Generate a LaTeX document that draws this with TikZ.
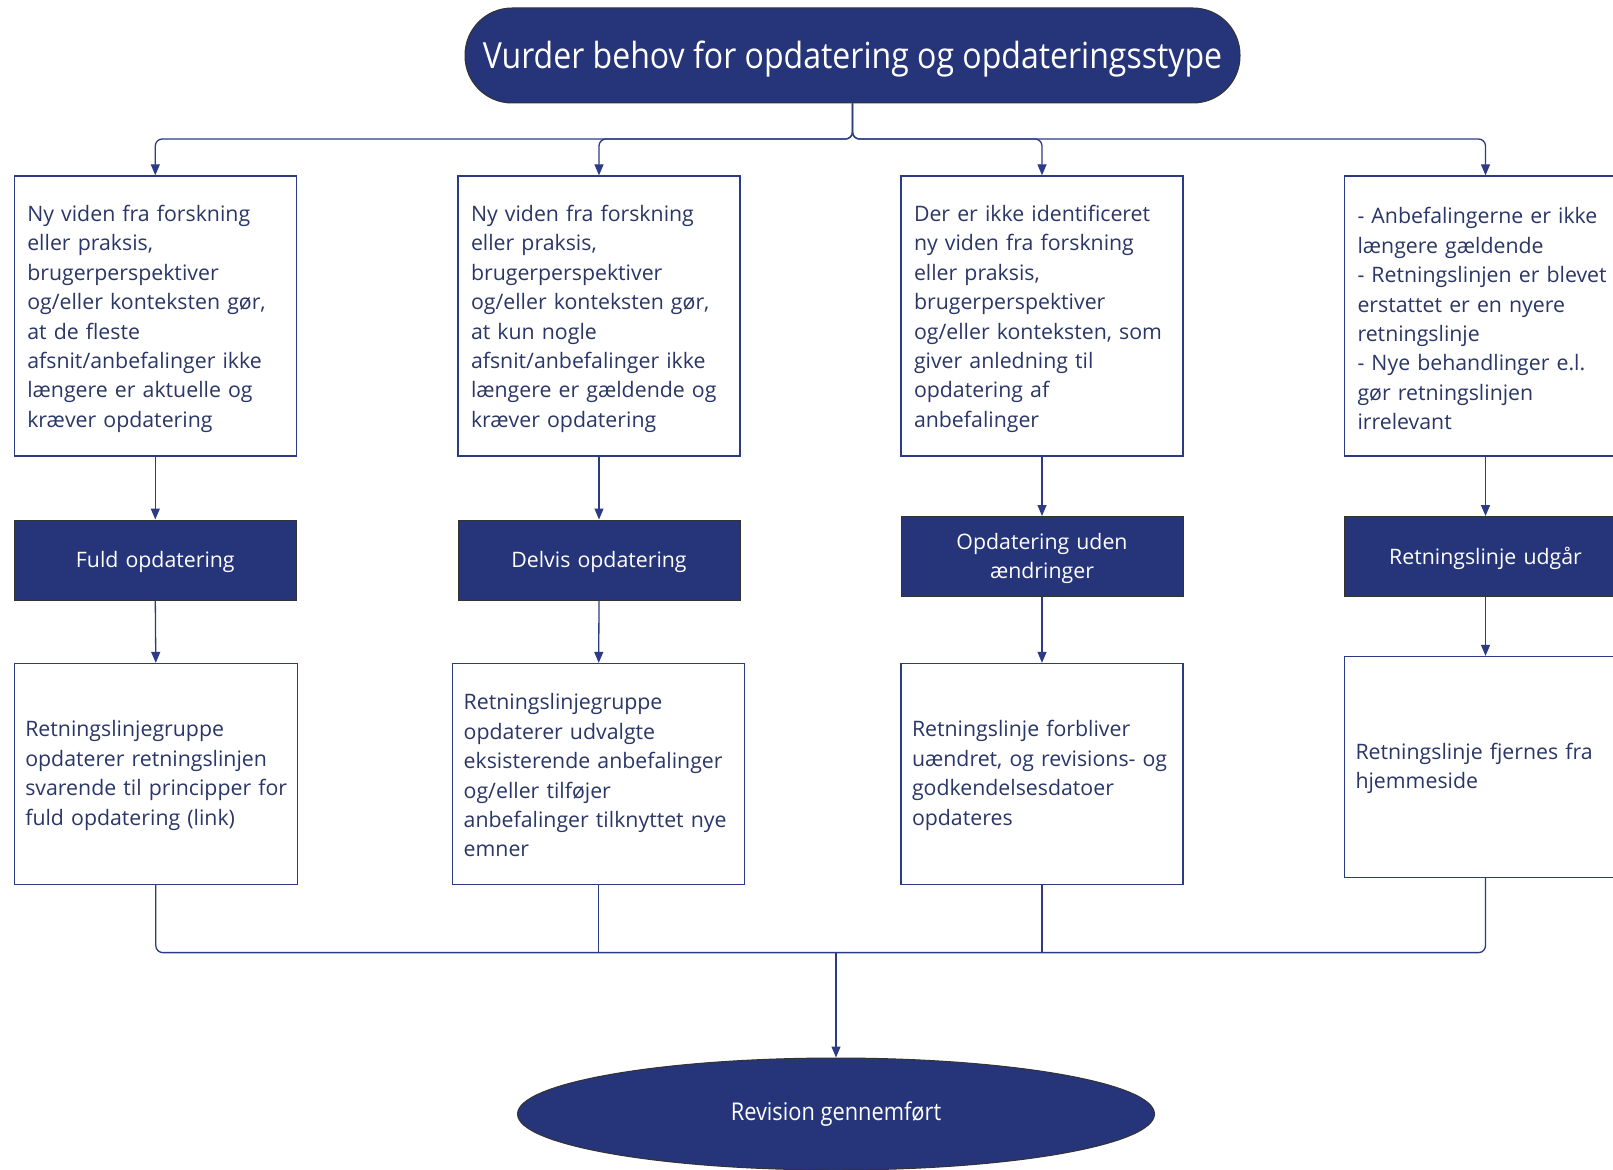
\documentclass[tikz,border=0pt]{standalone}
\usepackage{fontspec}
\setmainfont{Open Sans}
\newfontfamily\condfont[FakeStretch=0.89]{Open Sans}
\usetikzlibrary{arrows.meta,shapes.geometric}
\definecolor{navy}{RGB}{38,53,122}
\definecolor{txt}{RGB}{42,54,104}
\definecolor{edge}{RGB}{44,60,132}
\begin{document}
\begin{tikzpicture}[x=1pt,y=-1pt,
  wbox/.style={draw=edge, line width=1.3pt, fill=white, minimum width=282pt, text width=256pt, align=left, text=txt, font=\fontsize{21.3}{29.4}\selectfont, inner sep=0pt},
  dbox/.style={draw=black!80, line width=1pt, fill=navy, minimum width=282pt, minimum height=80pt, text width=256pt, align=center, text=white, font=\fontsize{21.3}{29.4}\selectfont, inner sep=0pt, text height=20.2pt},
  conn/.style={draw=edge, line width=1.3pt},
  arr/.style={conn, -{Triangle[length=11pt,width=9pt]}}
]
\path[use as bounding box] (0,0) rectangle (1613,1169);
\clip (0,0) rectangle (1613,1169);
\fill[white] (0,0) rectangle (1613,1169);

% top
\node[draw=black!80, line width=1pt, fill=navy, rounded corners=47pt, minimum width=775pt, minimum height=95pt, text=white, font=\condfont\fontsize{36}{42}\selectfont, inner sep=0pt, text height=35pt, text depth=8.6pt] (top) at (852.5,55.5) {Vurder behov for opdatering og opdateringsstype};

% row 1
\node[wbox, minimum height=280pt, text height=22pt] (r11) at (155.3,316) {Ny viden fra forskning\\eller praksis,\\brugerperspektiver\\og/eller konteksten gør,\\at de fleste\\afsnit/anbefalinger ikke\\længere er aktuelle og\\kræver opdatering};
\node[wbox, minimum height=280pt, text height=22pt] (r12) at (599,316) {Ny viden fra forskning\\eller praksis,\\brugerperspektiver\\og/eller konteksten gør,\\at kun nogle\\afsnit/anbefalinger ikke\\længere er gældende og\\kræver opdatering};
\node[wbox, minimum height=280pt, text height=22pt] (r13) at (1042,316) {Der er ikke identificeret\\ny viden fra forskning\\eller praksis,\\brugerperspektiver\\og/eller konteksten, som\\giver anledning til\\opdatering af\\anbefalinger};
\node[wbox, minimum height=280pt, text height=22pt] (r14) at (1485.5,316) {- Anbefalingerne er ikke\\længere gældende\\- Retningslinjen er blevet\\erstattet er en nyere\\retningslinje\\- Nye behandlinger e.l.\\gør retningslinjen\\irrelevant};

% row 2
\node[dbox] (r21) at (155.3,560) {Fuld opdatering};
\node[dbox] (r22) at (599,560) {Delvis opdatering};
\node[dbox] (r23) at (1042,556.5) {Opdatering uden\\ændringer};
\node[dbox] (r24) at (1485.5,556.5) {Retningslinje udgår};

% row 3
\node[wbox, minimum height=221pt, minimum width=283pt, text width=261pt, text height=19pt] (r31) at (155.8,774) {Retningslinjegruppe\\opdaterer retningslinjen\\\mbox{svarende til principper for}\\fuld opdatering (link)};
\node[wbox, minimum height=221pt, minimum width=292pt, text width=270pt, text height=19pt] (r32) at (598.7,774) {Retningslinjegruppe\\opdaterer udvalgte\\eksisterende anbefalinger\\og/eller tilføjer\\\mbox{anbefalinger tilknyttet nye}\\emner};
\node[wbox, minimum height=221pt, text width=260pt, text height=19pt] (r33) at (1042,774) {Retningslinje forbliver\\\mbox{uændret, og revisions- og}\\godkendelsesdatoer\\opdateres};
\node[wbox, minimum height=221pt, text width=260pt, text height=19pt] (r34) at (1485.5,767) {Retningslinje fjernes fra\\hjemmeside};

% end
\node[ellipse, draw=black!80, line width=1pt, fill=navy, minimum width=637pt, minimum height=112pt, text=white, font=\condfont\fontsize{24.5}{28}\selectfont, inner sep=0pt] (end) at (836,1114) {Revision gennemført};

% connectors top
\coordinate (jt) at (852.5,139);
\foreach \n in {r11,r12,r13,r14}{
  \draw[arr, rounded corners=7pt] (top.south) -- (jt) -| (\n.north);
}
% vertical arrows
\foreach \a/\b in {r11/r21,r12/r22,r13/r23,r14/r24,r21/r31,r22/r32,r23/r33,r24/r34}{
  \draw[arr] (\a.south) -- (\b.north);
}
% bottom
\coordinate (jb) at (836,952.6);
\draw[conn, rounded corners=7pt] (r31.south) -- (r31.south |- jb) -- (r34.south |- jb) -- (r34.south);
\draw[conn] (r32.south) -- (r32.south |- jb);
\draw[conn] (r33.south) -- (r33.south |- jb);
\draw[arr] (jb) -- (end.north);
\end{tikzpicture}
\end{document}
